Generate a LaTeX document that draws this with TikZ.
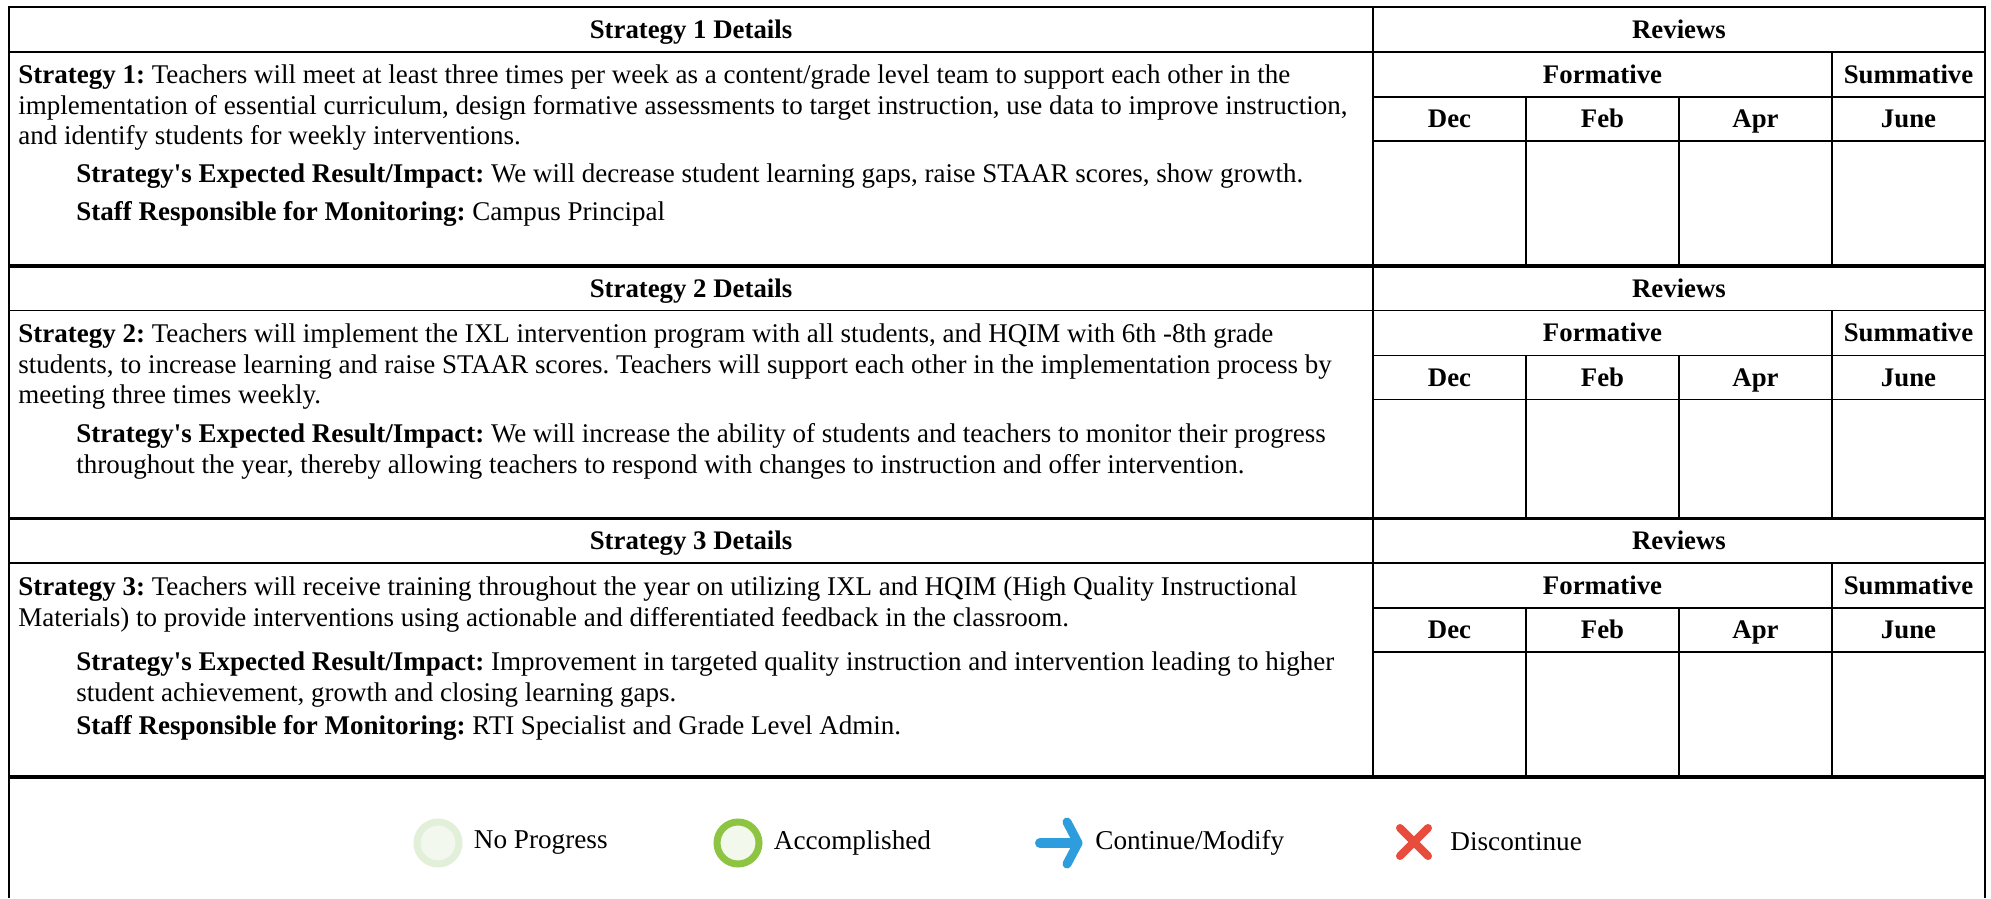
\documentclass[tikz,border=0pt]{standalone}
\usepackage{fontspec}
\setmainfont{Liberation Serif}
\usetikzlibrary{calc,positioning}
\definecolor{npring}{RGB}{226,239,217}
\definecolor{npfill}{RGB}{243,248,239}
\definecolor{accring}{RGB}{141,196,66}
\definecolor{accfill}{RGB}{242,248,236}
\definecolor{contblue}{RGB}{45,157,222}
\definecolor{discred}{RGB}{231,76,60}
\frenchspacing
\tikzset{
  gridline/.style={draw=black, line width=0.75pt},
  sectionrule/.style={draw=black, line width=1.6pt},
  frameline/.style={draw=black, line width=1pt},
  headcell/.style={font=\fontsize{13.4}{15}\selectfont\bfseries, inner sep=0pt, text height=8.8pt, text depth=0pt},
  bodypar/.style={font=\fontsize{13.5}{15.2}\selectfont, align=left, anchor=north west, inner sep=0pt},
}
\newcommand{\resultlabel}{\textbf{Strategy\textquotesingle s Expected Result/Impact:}}
\begin{document}
\begin{tikzpicture}[x=0.5pt, y=-0.5pt]
  \tikzset{
    legendtext/.style={font=\fontsize{13.6}{15}\selectfont, inner sep=0pt},
    ringmark/.style={circle, line width=3.5pt, minimum size=21pt, inner sep=0pt},
    iconbox/.style={inner sep=0pt, outer sep=0pt, minimum height=24pt},
  }
  \fill[white] (0,0) rectangle (1991,898);

  % frame
  \draw[frameline] (9,898) -- (9,7.5) -- (1985,7.5) -- (1985,898);

  \foreach \ytop/\ybot/\n in {7.5/266/1, 266/518.5/2, 518.5/777/3}{
    \draw[gridline] (9,\ytop+44.5) -- (1985,\ytop+44.5);
    \draw[gridline] (1373,\ytop+89.5) -- (1985,\ytop+89.5);
    \draw[gridline] (1373,\ytop+133.5) -- (1985,\ytop+133.5);
    \draw[gridline] (1373,\ytop) -- (1373,\ybot);
    \draw[gridline] (1832,\ytop+44.5) -- (1832,\ybot);
    \draw[gridline] (1526,\ytop+89.5) -- (1526,\ybot);
    \draw[gridline] (1679,\ytop+89.5) -- (1679,\ybot);
    \draw[sectionrule] (9,\ybot) -- (1985,\ybot);
    \node[headcell] (details\n) at (691,\ytop+22.25) {Strategy \n\ Details};
    \node[headcell] (reviews\n) at (1679,\ytop+22.25) {Reviews};
    \node[headcell] (formative\n) at (1602.5,\ytop+67) {Formative};
    \node[headcell] (summative\n) at (1908.5,\ytop+67) {Summative};
    \foreach \m/\xc in {Dec/1449.5, Feb/1602.5, Apr/1755.5, June/1908.5}
      \node[headcell] (\m\n) at (\xc,\ytop+111.5) {\m};
  }

  % strategy 1
  \node[bodypar] (strat1) at (18,62) {\strut\textbf{Strategy 1:} Teachers will meet at least three times per week as a content/grade level team to support each other in the\\
    implementation of essential curriculum, design formative assessments to target instruction, use data to improve instruction,\\
    and identify students for weekly interventions.};
  \node[bodypar] (result1) at (76,161) {\strut\resultlabel{} We will decrease student learning gaps, raise STAAR scores, show growth.};
  \node[bodypar] (staff1) at (76,199) {\strut\textbf{Staff Responsible for Monitoring:} Campus Principal};

  % strategy 2
  \node[bodypar] (strat2) at (18,321) {\strut\textbf{Strategy 2:} Teachers will implement the IXL intervention program with all students, and HQIM with 6th -8th grade\\
    students, to increase learning and raise STAAR scores. Teachers will support each other in the implementation process by\\
    meeting three times weekly.};
  \node[bodypar] (result2) at (76,421) {\strut\resultlabel{} We will increase the ability of students and teachers to monitor their progress\\
    throughout the year, thereby allowing teachers to respond with changes to instruction and offer intervention.};

  % strategy 3
  \node[bodypar] (strat3) at (18,574) {\strut\textbf{Strategy 3:} Teachers will receive training throughout the year on utilizing IXL and HQIM (High Quality Instructional\\
    Materials) to provide interventions using actionable and differentiated feedback in the classroom.};
  \node[bodypar] (result3) at (76,649) {\strut\resultlabel{} Improvement in targeted quality instruction and intervention leading to higher\\
    student achievement, growth and closing learning gaps.};
  \node[bodypar] (staff3) at (76,713) {\strut\textbf{Staff Responsible for Monitoring:} RTI Specialist and Grade Level Admin.};

  % legend
  \node[ringmark, draw=npring, fill=npfill] (noprog) at (438,843) {};
  \node[legendtext, right=5.5pt of noprog] (noproglabel) {No Progress};
  \node[ringmark, draw=accring, fill=accfill] (accomp) at (738,843) {};
  \node[legendtext, right=5.5pt of accomp] (accomplabel) {Accomplished};
  \node[iconbox, minimum width=24pt] (contmod) at (1059,843) {};
  \draw[contblue, line width=5pt, line cap=round] ($(contmod)+(-19,0)$) -- ($(contmod)+(14,0)$);
  \draw[contblue, line width=4.5pt, line cap=round, line join=round] ($(contmod)+(8,-21)$) -- ($(contmod)+(19,0)$) -- ($(contmod)+(8,21)$);
  \node[legendtext, right=6pt of contmod] (contmodlabel) {Continue/Modify};
  \node[iconbox, minimum width=18pt] (discont) at (1414,842) {};
  \draw[discred, line width=4pt, line cap=round] ($(discont)+(-14,-14)$) -- ($(discont)+(14,14)$)
    ($(discont)+(-14,14)$) -- ($(discont)+(14,-14)$);
  \node[legendtext, right=9pt of discont] (discontlabel) {Discontinue};
\end{tikzpicture}
\end{document}
